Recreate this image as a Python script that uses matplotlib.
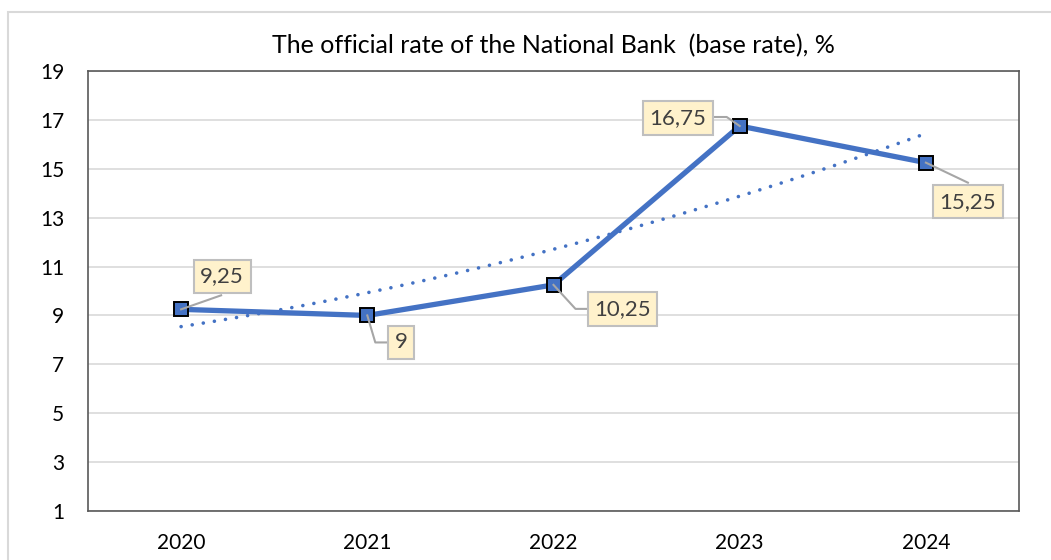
import numpy as np
import matplotlib
matplotlib.use("Agg")
import matplotlib.pyplot as plt
from matplotlib.patches import Rectangle

plt.rcParams['font.family'] = ['Lato', 'DejaVu Sans']

# Data
years = ["2020", "2021", "2022", "2023", "2024"]
rates = [9.25, 9, 10.25, 16.75, 15.25]
value_labels = ["9,25", "9", "10,25", "16,75", "15,25"]
y_ticks = [1, 3, 5, 7, 9, 11, 13, 15, 17, 19]
title = "The official rate of the National Bank  (base rate), %"

BLUE = "#4472c4"

fig = plt.figure(figsize=(10.51, 5.6), dpi=100)
W, H = 1051, 560

# outer chart frame
fig.patches.append(Rectangle((7.5 / W, -0.1), 1.2, 1 - 12 / H + 0.1,
                             transform=fig.transFigure, fill=False,
                             edgecolor="#d9d9d9", linewidth=1.5, zorder=0))

ax = fig.add_axes([88 / W, 1 - 511 / H, (1019 - 88) / W, (511 - 71) / H])
x = np.arange(len(years))

ax.set_xlim(-0.5, len(years) - 0.5)
ax.set_ylim(y_ticks[0], y_ticks[-1])
ax.set_yticks(y_ticks)
ax.set_xticks(x)
ax.set_xticklabels(years)
ax.tick_params(axis="both", length=0, labelsize=15, colors="black")
ax.tick_params(axis="y", pad=17)
ax.tick_params(axis="x", pad=16)
ax.grid(axis="y", color="#d9d9d9", linewidth=1.2)
ax.set_axisbelow(True)
for s in ax.spines.values():
    s.set_color("#595959")
    s.set_linewidth(1.2)

# polynomial (order 2) trendline
coef = np.polyfit(x, rates, 2)
xt = np.linspace(0, len(years) - 1, 200)
ax.plot(xt, np.polyval(coef, xt), color=BLUE, linewidth=2.6,
        linestyle=(0, (0.01, 3.1)), dash_capstyle="round", zorder=2)

# main series
ax.plot(x, rates, color=BLUE, linewidth=3.8, zorder=3,
        marker="s", markersize=9.5, markerfacecolor=BLUE,
        markeredgecolor="black", markeredgewidth=1.4)

fig.text(553.5 / W, 1 - 46 / H, title, fontsize=18, ha="center", va="center",
         color="black")

fig.canvas.draw()

# data labels: box offset and leader-line vertices in pixels (x right, y down)
label_offsets = [(41, -33), (34, 27), (69, 24), (-62, -8), (42, 39)]
leaders = [
    [(0, 0), (40, -14)],
    [(0, 0), (8, 27), (20, 27)],
    [(0, 0), (22, 24), (34, 24)],
    [(0, 0), (-13, -9), (-27, -9)],
    [(0, 0), (42, 20)],
]
for xi, yi, txt, off, pts in zip(x, rates, value_labels, label_offsets, leaders):
    px, py = ax.transData.transform((xi, yi))
    lx = [px + p[0] for p in pts]
    ly = [py - p[1] for p in pts]
    ax.add_line(plt.Line2D(lx, ly, transform=None, color="#a6a6a6",
                           linewidth=1.5, zorder=4))
    ax.annotate(txt, xy=(xi, yi), xytext=(off[0], -off[1]),
                textcoords="offset pixels", ha="center", va="center",
                fontsize=16, color="#404040", zorder=5,
                bbox=dict(boxstyle="square,pad=0.3", facecolor="#fff2cc",
                          edgecolor="#bfbfbf", linewidth=1.5))

fig.savefig("out.png", dpi=100, facecolor="white")
